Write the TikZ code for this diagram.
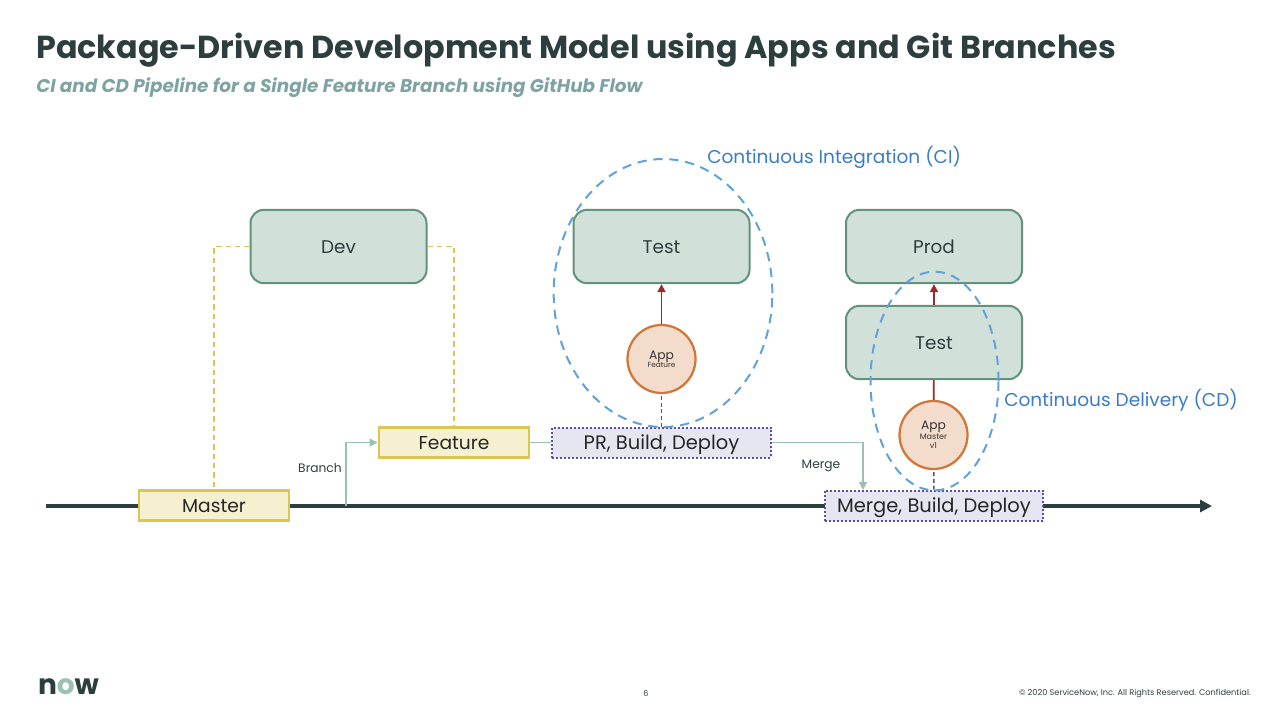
\documentclass[tikz,border=0pt]{standalone}
\usepackage{fontspec}
\setmainfont{Poppins}
\usetikzlibrary{shapes.geometric,arrows.meta}
\definecolor{darkslate}{HTML}{2D3E3F}
\definecolor{subgray}{HTML}{7FA3A3}
\definecolor{envfill}{HTML}{D1E0D9}
\definecolor{envline}{HTML}{62917C}
\definecolor{branchfill}{HTML}{F5F0D0}
\definecolor{branchline}{HTML}{D9C655}
\definecolor{stepfill}{HTML}{E6E6F1}
\definecolor{stepline}{HTML}{5B4F9E}
\definecolor{appfill}{HTML}{F3DCCB}
\definecolor{appline}{HTML}{D2773A}
\definecolor{flowline}{HTML}{9BC1B2}
\definecolor{pipeblue}{HTML}{3B7CC4}
\definecolor{ringblue}{HTML}{62A2D8}
\definecolor{redline}{HTML}{9C2A2A}
\newcommand{\applow}[2]{\smash{\raisebox{#1}{#2}}}
\begin{document}
\begin{tikzpicture}[x=0.75pt,y=-0.75pt,
  env/.style = {draw=envline,fill=envfill,line width=1.5pt,rounded corners=10pt,minimum width=132pt,minimum height=55pt,text=darkslate,text height=10.5pt,text depth=0.7pt,font=\fontsize{13.8}{16}\selectfont},
  branchbox/.style = {draw=branchline,fill=branchfill,line width=1.7pt,minimum width=113pt,minimum height=22.5pt,inner sep=0pt,text=black!85,text height=10.5pt,text depth=0.7pt,font=\fontsize{14}{16}\selectfont},
  stagebox/.style = {draw=stepline,fill=stepfill,line width=1.5pt,dash pattern=on 1.5pt off 1.5pt,minimum width=164pt,minimum height=22.5pt,inner sep=0pt,text=black!85,text height=10.5pt,text depth=0.7pt,font=\fontsize{14.6}{16}\selectfont},
  app/.style = {draw=appline,fill=appfill,circle,line width=1.7pt,minimum size=51pt,inner sep=0pt,align=center,text=black!80,font=\fontsize{9.2}{8}\selectfont},
  ring/.style = {draw=ringblue,ellipse,line width=1.5pt,dash pattern=on 7pt off 5pt,inner sep=0pt},
  flow/.style = {draw=flowline,line width=1.1pt,-{Triangle[length=6pt,width=6pt]}},
  small/.style = {font=\fontsize{9.2}{10}\selectfont,text=darkslate},
  pipelabel/.style = {anchor=west,text=pipeblue,font=\fontsize{13.9}{16}\selectfont}]
\useasboundingbox (0,0) rectangle (1280,722);
% heading
\node (heading) at (36,50) [anchor=west,inner sep=0pt,text=darkslate,font=\fontsize{23.85}{28}\selectfont\bfseries] {Package-Driven Development Model using Apps and Git Branches};
\node (subheading) at (36,87.5) [anchor=west,inner sep=0pt,text=subgray,font=\fontsize{13.8}{16}\selectfont\bfseries\itshape] {CI and CD Pipeline for a Single Feature Branch using GitHub Flow};
% timeline
\coordinate (linestart) at (46,506);
\coordinate (lineend) at (1212,506);
\coordinate (branchpoint) at (346,506);
\coordinate (mergein) at (863,490);
\draw[darkslate,line width=2.7pt,-{Triangle[length=9pt,width=9pt]}] (linestart) -- (lineend);
% boxes
\node (dev) at (338.5,246.5) [env] {Dev};
\node (testci) at (661.5,246.5) [env] {Test};
\node (prod) at (934,246.5) [env] {Prod};
\node (testcd) at (934,342.5) [env] {Test};
\node (master) at (214,505.5) [branchbox] {Master};
\node (feature) at (454,442.5) [branchbox] {Feature};
\node (prbuild) at (661.5,442.5) [stagebox] {PR, Build, Deploy};
\node (mergebuild) at (934,505.5) [stagebox] {Merge, Build, Deploy};
\node (appci) at (661.5,359) [app] {\applow{-3.6pt}{App}\\[-2.2pt]\applow{-3.6pt}{\fontsize{5.5}{6}\selectfont Feature}};
\node (appcd) at (933.5,435) [app] {\applow{-3.1pt}{App}\\[-1pt]\applow{-3.1pt}{\fontsize{6}{6.5}\selectfont Master}\\[-1.25pt]\applow{-3.1pt}{\fontsize{6}{6.5}\selectfont v1}};
% connectors
\draw[branchline,line width=1pt,dash pattern=on 4pt off 3pt] (dev.west) -| (master.north);
\draw[branchline,line width=1pt,dash pattern=on 4pt off 3pt] (dev.east) -| (feature.north);
\draw[flow] (branchpoint) |- (feature.west);
\draw[flowline,line width=1.1pt] (feature) -- (prbuild);
\draw[flow] (prbuild.east) -| (mergein);
\draw[redline,line width=1.2pt,-{Triangle[length=6pt,width=6pt]}] (appci) -- (testci);
\draw[redline,line width=1.2pt,-{Triangle[length=6pt,width=6pt]}] (testcd) -- (prod);
\draw[redline,line width=1.2pt] (appcd) -- (testcd);
\draw[stepline,line width=1.1pt,densely dashed] (prbuild) -- (appci);
\draw[stepline,line width=1.1pt,densely dashed] (mergebuild) -- (appcd);
% ci and cd
\node (cicircle) at (663,293) [ring,minimum width=164pt,minimum height=201pt] {};
\node (cdcircle) at (934.5,381) [ring,minimum width=96pt,minimum height=164pt] {};
\node (cilabel) at (707,157) [pipelabel,inner sep=0pt] {Continuous Integration (CI)};
\node (cdlabel) at (1004,400.5) [pipelabel,inner sep=0pt] {Continuous Delivery (CD)};
\node (branchlabel) at (320,468.5) [small] {Branch};
\node (mergelabel) at (821,466) [small] {Merge};
% footer
\node (logo) at (68.5,687) [text=darkslate,font=\fontsize{21}{21}\selectfont\bfseries] {n\textcolor{flowline}{o}w};
\node (pagenum) at (646,693.5) [small,font=\fontsize{6}{6}\selectfont] {6};
\node (legal) at (1251,693.5) [small,anchor=east,inner sep=0pt,font=\fontsize{6.15}{7}\selectfont] {© 2020 ServiceNow, Inc. All Rights Reserved. Confidential.};
\end{tikzpicture}
\end{document}
